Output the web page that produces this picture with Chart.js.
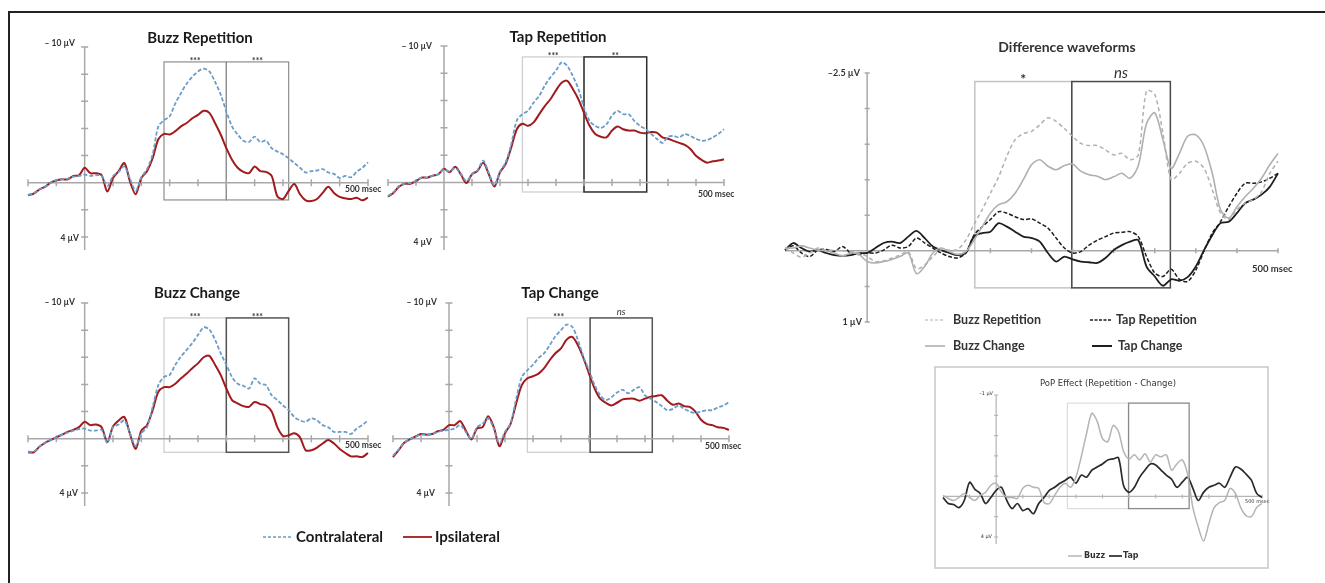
<!DOCTYPE html>
<html>
<head>
<meta charset="utf-8">
<script src="https://cdn.jsdelivr.net/npm/chart.js@4.4.0/dist/chart.umd.min.js"></script>
<style>
  html, body { margin: 0; padding: 0; background: #fff; }
  #fig { position: relative; width: 1325px; height: 583px; overflow: hidden; background: #fff; }
  #fig canvas { position: absolute; left: 0; top: 0; }
  #frame { position: absolute; left: 8px; top: 11px; right: -10px; bottom: -10px;
           border-left: 2px solid #222; border-top: 2px solid #222; }
</style>
</head>
<body>
<div id="fig"><div id="frame"></div></div>
<script>
// time axis, ms (one sample every 10 ms)
const times = [-100, -90, -80, -70, -60, -50, -40, -30, -20, -10,
  0, 10, 20, 30, 40, 50, 60, 70, 80, 90,
  100, 110, 120, 130, 140, 150, 160, 170, 180, 190,
  200, 210, 220, 230, 240, 250, 260, 270, 280, 290,
  300, 310, 320, 330, 340, 350, 360, 370, 380, 390,
  400, 410, 420, 430, 440, 450, 460, 470, 480, 490,
  500];

// ---- ERP panels, µV (negative up) ----
const buzzRepContra = [0.9, 0.78, 0.5, 0.3, 0.0, -0.2, -0.25, -0.3, -0.45, -0.5,
  -0.6, -0.5, -0.55, -0.5, 0.25, -0.5, -0.8, -1.2, -0.3, 0.6,
  -0.4, -1.0, -2.1, -4.15, -4.6, -4.9, -5.85, -6.6, -7.3, -7.8,
  -8.2, -8.4, -8.2, -7.45, -6.5, -5.25, -4.15, -3.55, -3.1, -3.0,
  -3.4, -3.0, -3.1, -2.55, -2.3, -2.1, -1.8, -1.45, -1.1, -0.75,
  -0.85, -0.9, -1.0, -0.75, -0.65, -0.35, -0.5, -0.4, -0.8, -1.1,
  -1.5];
const buzzRepIpsi = [0.93, 0.8, 0.5, 0.3, 0, -0.17, -0.25, -0.25, -0.5, -0.55,
  -1.1, -0.7, -0.7, -0.55, 0.65, -0.35, -0.85, -1.45, -0.1, 0.85,
  -0.35, -0.85, -1.8, -3.2, -3.6, -3.55, -3.8, -4.15, -4.4, -4.75,
  -5.0, -5.3, -5.15, -4.4, -3.55, -2.55, -1.7, -1.1, -0.8, -0.7,
  -1.2, -0.85, -0.8, -0.5, 1.0, 1.2, 0.6, 0.1, 0.85, 1.3,
  1.35, 1.2, 0.75, 0.3, 0.75, 1.05, 1.15, 1.2, 1.1, 1.3,
  1.1];
const tapRepContra = [1.0, 0.7, 0.25, 0.1, 0.05, -0.1, -0.35, -0.35, -0.5, -0.6,
  -0.95, -0.8, -1.05, -0.65, -0.1, -0.6, -0.9, -1.6, -0.7, 0.2,
  -0.8, -1.45, -2.8, -4.55, -5.0, -5.25, -5.85, -6.35, -7.1, -7.7,
  -8.2, -8.8, -8.55, -7.8, -6.85, -5.5, -4.5, -4.15, -4.0, -4.25,
  -4.9, -5.25, -5.0, -5.0, -4.5, -4.15, -3.9, -3.55, -3.2, -2.9,
  -3.35, -3.4, -3.3, -3.55, -3.4, -3.2, -3.05, -3.1, -3.3, -3.55,
  -3.9];
const tapRepIpsi = [1.05, 0.75, 0.3, 0.1, 0.1, -0.1, -0.35, -0.35, -0.5, -0.6,
  -1.0, -0.75, -1.15, -0.6, 0.05, -0.6, -0.85, -1.45, -0.6, 0.3,
  -0.75, -1.35, -2.55, -3.9, -4.3, -4.15, -4.4, -5.0, -5.6, -6.1,
  -6.75, -7.3, -7.45, -6.85, -6.1, -5.1, -4.15, -3.55, -3.35, -3.3,
  -3.8, -4.1, -3.9, -3.8, -3.8, -3.65, -3.6, -3.7, -3.65, -3.3,
  -3.2, -3.05, -2.9, -2.75, -2.45, -1.95, -1.65, -1.45, -1.55, -1.6,
  -1.7];
const buzzChgContra = [0.95, 0.95, 0.6, 0.3, 0.1, -0.1, -0.3, -0.45, -0.6, -0.7,
  -0.75, -0.6, -0.6, -0.65, 0.3, -0.85, -1.05, -1.35, -0.4, 0.55,
  -0.4, -0.85, -2.35, -3.95, -4.55, -4.7, -5.45, -6.05, -6.55, -7.05,
  -7.65, -8.2, -8.05, -7.3, -6.3, -5.45, -4.55, -4.05, -3.9, -3.7,
  -4.45, -4.05, -3.95, -3.2, -2.85, -2.45, -2.1, -1.6, -1.35, -1.25,
  -1.5, -1.35, -1.0, -0.85, -0.5, -0.5, -0.5, -0.35, -0.75, -1.0,
  -1.35];
const buzzChgIpsi = [1.0, 1.0, 0.6, 0.3, 0.1, -0.1, -0.3, -0.5, -0.65, -0.85,
  -1.25, -1.0, -1.05, -0.85, 0.25, -0.9, -1.35, -1.6, -0.35, 0.75,
  -0.6, -1.0, -2.1, -3.45, -3.8, -3.8, -4.05, -4.45, -4.8, -5.2,
  -5.55, -6.0, -6.1, -5.45, -4.7, -3.7, -2.85, -2.6, -2.4, -2.35,
  -2.7, -2.55, -2.45, -2.0, -0.85, -0.2, -0.25, -0.4, -0.1, 0.85,
  0.85, 0.65, 0.35, 0.1, 0.35, 0.75, 1.05, 1.3, 1.3, 1.35,
  1.05];
const tapChgContra = [1.25, 0.8, 0.3, 0.05, -0.15, -0.3, -0.3, -0.35, -0.5, -0.6,
  -0.65, -0.75, -1.0, -0.5, 0.0, -0.85, -1.1, -1.5, -0.75, 0.35,
  -0.5, -1.15, -2.95, -4.55, -5.05, -5.45, -5.95, -6.3, -6.9, -7.55,
  -8.0, -8.4, -8.25, -7.3, -6.05, -5.05, -3.95, -3.2, -2.85, -3.05,
  -3.4, -3.6, -3.35, -3.6, -3.8, -3.2, -2.95, -2.7, -2.4, -2.1,
  -2.2, -2.45, -2.2, -2.0, -1.9, -2.0, -2.1, -2.1, -2.3, -2.45,
  -2.7];
const tapChgIpsi = [1.35, 0.85, 0.3, 0.05, -0.15, -0.35, -0.3, -0.35, -0.55, -0.65,
  -1.0, -1.0, -1.3, -0.6, 0.05, -0.75, -0.85, -1.65, -0.85, 0.55,
  -0.4, -1.1, -2.6, -3.95, -4.45, -4.6, -4.8, -5.2, -5.8, -6.3,
  -6.65, -7.3, -7.5, -6.9, -5.95, -4.8, -3.7, -2.95, -2.65, -2.45,
  -2.65, -2.9, -2.95, -2.95, -2.8, -2.95, -3.1, -3.15, -3.2, -2.8,
  -2.5, -2.6, -2.4, -2.35, -2.0, -1.4, -1.1, -1.0, -0.85, -0.8,
  -0.65];

// ---- difference waveforms, µV ----
const diffBuzzRep = [-0.04, 0.03, 0.09, 0.03, -0.04, -0.01, -0.01, 0.0, 0.01, 0.03,
  0.08, 0.15, 0.14, 0.1, 0.06, 0.01, 0.25, 0.2, 0.08, -0.02,
  -0.01, -0.02, -0.15, -0.37, -0.58, -0.81, -1.04, -1.33, -1.56, -1.65,
  -1.68, -1.77, -1.87, -1.82, -1.72, -1.61, -1.51, -1.48, -1.48, -1.42,
  -1.35, -1.37, -1.28, -1.35, -2.25, -2.2, -1.65, -1.0, -1.09, -1.23,
  -1.26, -1.16, -0.86, -0.53, -0.44, -0.58, -0.67, -0.72, -0.83, -1.09,
  -1.26];
const diffBuzzChg = [-0.04, -0.04, -0.07, -0.04, -0.01, 0.0, 0.03, 0.07, 0.03, 0.05,
  0.15, 0.17, 0.15, 0.12, 0.08, 0.03, 0.32, 0.22, 0.03, -0.04,
  0.01, 0.05, 0.01, -0.15, -0.34, -0.53, -0.65, -0.69, -0.81, -1.0,
  -1.21, -1.28, -1.19, -1.14, -1.2, -1.22, -1.12, -1.07, -1.05, -1.0,
  -1.04, -1.09, -1.02, -1.2, -1.79, -1.94, -1.56, -1.16, -1.37, -1.61,
  -1.63, -1.47, -1.09, -0.58, -0.46, -0.62, -0.76, -0.88, -1.02, -1.21,
  -1.37];
const diffTapRep = [-0.01, -0.07, 0.03, 0.08, -0.01, -0.02, 0.01, -0.06, 0.03, 0.05,
  0.03, 0.03, -0.01, -0.08, -0.04, -0.06, -0.18, -0.11, -0.04, 0.03,
  0.08, 0.1, 0.03, -0.22, -0.34, -0.44, -0.55, -0.53, -0.48, -0.44,
  -0.45, -0.39, -0.32, -0.18, -0.04, 0.03, 0.01, -0.08, -0.15, -0.2,
  -0.25, -0.26, -0.27, -0.2, 0.08, 0.31, 0.36, 0.26, 0.4, 0.43,
  0.27, 0.0, -0.25, -0.41, -0.62, -0.81, -0.95, -0.95, -0.97, -1.02,
  -1.09];
const diffTapChg = [-0.01, -0.11, -0.04, 0.01, -0.01, 0.03, 0.06, 0.07, 0.06, 0.03,
  0.03, -0.04, -0.11, -0.13, -0.11, -0.2, -0.28, -0.18, -0.06, -0.01,
  0.03, 0.06, 0.03, -0.2, -0.25, -0.27, -0.39, -0.34, -0.27, -0.2,
  -0.18, -0.13, 0.03, 0.15, 0.08, 0.12, 0.15, 0.16, 0.17, 0.1,
  -0.01, -0.08, -0.13, -0.15, 0.22, 0.36, 0.49, 0.4, 0.42, 0.37,
  0.22, -0.01, -0.22, -0.39, -0.41, -0.53, -0.67, -0.72, -0.79, -0.9,
  -1.09];

// ---- PoP effect (repetition - change) ----
const popBuzz = [-0.01, 0.02, 0.04, 0.01, -0.03, 0.01, 0.04, -0.01, -0.04, -0.11,
  -0.13, -0.04, 0.01, 0.01, 0.02, -0.08, -0.11, -0.09, -0.08, 0.06,
  0.07, -0.01, -0.09, -0.13, -0.09, -0.19, -0.39, -0.62, -0.82, -0.74,
  -0.57, -0.54, -0.7, -0.64, -0.44, -0.37, -0.41, -0.36, -0.42, -0.34,
  -0.41, -0.39, -0.41, -0.26, -0.32, -0.36, -0.22, 0.11, 0.3, 0.44,
  0.27, 0.11, 0.06, 0.04, -0.08, -0.03, 0.11, 0.19, 0.2, 0.11,
  0.07];
const popTap = [0.01, 0.07, 0.08, 0.11, 0.04, -0.14, -0.07, -0.03, 0.07, 0.01,
  -0.06, -0.09, 0.04, 0.12, 0.07, 0.14, 0.12, 0.17, 0.07, 0.01,
  -0.06, -0.09, -0.13, -0.16, -0.19, -0.13, -0.21, -0.19, -0.26, -0.29,
  -0.32, -0.36, -0.37, -0.38, -0.1, -0.04, -0.09, -0.19, -0.26, -0.32,
  -0.31, -0.26, -0.21, -0.17, -0.09, -0.14, -0.19, -0.08, 0.04, -0.04,
  -0.09, -0.11, -0.13, -0.09, -0.19, -0.29, -0.27, -0.22, -0.16, -0.03,
  0.01];

// tick values
const eegXTicks = [-100, -50, 0, 50, 100, 150, 200, 250, 300, 350, 400, 450, 500];
const eegYTicks = [-10, -8, -6, -4, -2, 0, 2, 4];
const diffXTicks = [150, 200, 250, 300, 350, 400, 450, 500];
const diffYTicks = [-2.5, -2, -1.5, -1, -0.5, 0, 0.5, 1];
const popXTicks = [-50, 0, 50, 100, 150, 200, 250, 300, 350, 400, 450, 500];
const popYTicks = [-1, -0.8, -0.6, -0.4, -0.2, 0, 0.2, 0.4];

// ---- styles ----
const contra = { borderColor: '#6a9dca', borderWidth: 1.8, borderDash: [4, 2] };
const ipsi = { borderColor: '#a11a1d', borderWidth: 2 };
const lightDash = { borderColor: '#b0b0b0', borderWidth: 1.5, borderDash: [4, 3] };
const lightSolid = { borderColor: '#b0b0b0', borderWidth: 1.6 };
const darkDash = { borderColor: '#1e1e1e', borderWidth: 1.5, borderDash: [4, 2] };
const darkSolid = { borderColor: '#1e1e1e', borderWidth: 1.8 };
const popGray = { borderColor: '#b4b4b4', borderWidth: 1.5 };
const popBlack = { borderColor: '#2a2a2a', borderWidth: 1.7 };

const eegAxis = { color: '#a8a8a8', width: 1.5, xTicks: eegXTicks, yTicks: eegYTicks, tick: 3.5, yTail: 13 };
const lab = 'bold 8.5px Lato';
const ttl = 'bold 15px Lato';
const star = 'bold 8.5px Lato';

const panels = [
  { // Buzz Repetition
    area: [28, 47, 368, 237], yRange: [-10, 4], axis: eegAxis,
    series: [{ v: buzzRepContra, s: contra }, { v: buzzRepIpsi, s: ipsi }],
    boxes: [
      { from: 140, to: 250, top: -8.9, bottom: 1.27, color: '#8e8e8e', width: 1.2, mark: '***', font: star, dy: 2 },
      { from: 250, to: 360, top: -8.9, bottom: 1.27, color: '#8e8e8e', width: 1.2, mark: '***', font: star, dy: 2 },
    ],
    texts: [
      { t: 'Buzz Repetition', x: 200, y: 38, font: ttl, align: 'center', color: '#1a1a1a' },
      { t: '– 10 µV', x: 75, y: 43, font: lab, align: 'right' },
      { t: '4 µV', x: 79, y: 238, font: lab, align: 'right' },
      { t: '500 msec', x: 345, y: 189, font: lab, align: 'left' },
    ],
  },
  { // Tap Repetition
    area: [388, 46, 724, 237], yRange: [-10, 4], axis: eegAxis,
    series: [{ v: tapRepContra, s: contra }, { v: tapRepIpsi, s: ipsi }],
    boxes: [
      { from: 140, to: 250, top: -9.2, bottom: 0.7, color: '#cfcfcf', width: 1.3, mark: '***', font: star, dy: 2 },
      { from: 250, to: 362, top: -9.2, bottom: 0.7, color: '#2e2e2e', width: 1.5, mark: '**', font: star, dy: 2 },
    ],
    texts: [
      { t: 'Tap Repetition', x: 558, y: 37, font: ttl, align: 'center', color: '#1a1a1a' },
      { t: '– 10 µV', x: 432, y: 46, font: lab, align: 'right' },
      { t: '4 µV', x: 432, y: 242, font: lab, align: 'right' },
      { t: '500 msec', x: 698, y: 194, font: lab, align: 'left' },
    ],
  },
  { // Buzz Change
    area: [28, 303, 368, 493], yRange: [-10, 4], axis: eegAxis,
    series: [{ v: buzzChgContra, s: contra }, { v: buzzChgIpsi, s: ipsi }],
    boxes: [
      { from: 140, to: 250, top: -8.9, bottom: 1.0, color: '#cfcfcf', width: 1.3, mark: '***', font: star, dy: 2 },
      { from: 250, to: 360, top: -8.9, bottom: 1.0, color: '#555555', width: 1.5, mark: '***', font: star, dy: 2 },
    ],
    texts: [
      { t: 'Buzz Change', x: 197, y: 293, font: ttl, align: 'center', color: '#1a1a1a' },
      { t: '– 10 µV', x: 75, y: 302, font: lab, align: 'right' },
      { t: '4 µV', x: 78, y: 493, font: lab, align: 'right' },
      { t: '500 msec', x: 345, y: 445, font: lab, align: 'left' },
    ],
  },
  { // Tap Change
    area: [393, 303, 729, 493], yRange: [-10, 4], axis: eegAxis,
    series: [{ v: tapChgContra, s: contra }, { v: tapChgIpsi, s: ipsi }],
    boxes: [
      { from: 140, to: 252, top: -8.9, bottom: 1.0, color: '#cfcfcf', width: 1.3, mark: '***', font: star, dy: 2 },
      { from: 252, to: 363, top: -8.9, bottom: 1.0, color: '#555555', width: 1.5, mark: 'ns', font: 'italic 9.5px Lato', dy: -3 },
    ],
    texts: [
      { t: 'Tap Change', x: 560, y: 293, font: ttl, align: 'center', color: '#1a1a1a' },
      { t: '– 10 µV', x: 437, y: 302, font: lab, align: 'right' },
      { t: '4 µV', x: 435, y: 493, font: lab, align: 'right' },
      { t: '500 msec', x: 705, y: 446, font: lab, align: 'left' },
      // shared legend of the four ERP panels
      { t: 'Contralateral', x: 296, y: 537, font: 'bold 15px Lato', align: 'left', color: '#1a1a1a' },
      { t: 'Ipsilateral', x: 435, y: 537, font: 'bold 15px Lato', align: 'left', color: '#1a1a1a' },
    ],
    keys: [
      { x1: 263, x2: 293, y: 537, s: { borderColor: '#6a9dca', borderWidth: 1.5, borderDash: [3, 2] } },
      { x1: 403, x2: 432, y: 537, s: { borderColor: '#a11a1d', borderWidth: 1.8 } },
    ],
  },
  { // Difference waveforms
    area: [785, 73, 1278, 322], yRange: [-2.5, 1],
    axis: { color: '#a8a8a8', width: 1.5, xTicks: diffXTicks, yTicks: diffYTicks, tick: 2.5, yTail: 0 },
    series: [{ v: diffBuzzRep, s: lightDash }, { v: diffBuzzChg, s: lightSolid },
             { v: diffTapRep, s: darkDash }, { v: diffTapChg, s: darkSolid }],
    boxes: [
      { from: 131, to: 249, top: -2.38, bottom: 0.52, color: '#c4c4c4', width: 1.5, mark: '*', font: 'bold 14px Lato', dy: 2 },
      { from: 249, to: 369, top: -2.38, bottom: 0.52, color: '#4a4a4a', width: 1.5, mark: 'ns', font: 'italic 15px Lato', dy: -4 },
    ],
    texts: [
      { t: 'Difference waveforms', x: 1067, y: 47, font: 'bold 14px Lato', align: 'center', color: '#333' },
      { t: '–2.5 µV', x: 860, y: 73, font: 'bold 9px Lato', align: 'right' },
      { t: '1 µV', x: 862, y: 322, font: 'bold 9px Lato', align: 'right' },
      { t: '500 msec', x: 1252, y: 269, font: 'bold 9.5px Lato', align: 'left' },
      { t: 'Buzz Repetition', x: 953, y: 320, font: 'bold 12.5px Lato', align: 'left', color: '#333' },
      { t: 'Tap Repetition', x: 1116, y: 320, font: 'bold 12.5px Lato', align: 'left', color: '#333' },
      { t: 'Buzz Change', x: 953, y: 346, font: 'bold 12.5px Lato', align: 'left', color: '#333' },
      { t: 'Tap Change', x: 1118, y: 346, font: 'bold 12.5px Lato', align: 'left', color: '#333' },
    ],
    keys: [
      { x1: 925, x2: 945, y: 320, s: { borderColor: '#b0b0b0', borderWidth: 1.2, borderDash: [3, 2] } },
      { x1: 1090, x2: 1112, y: 320, s: { borderColor: '#1e1e1e', borderWidth: 1.4, borderDash: [3, 1.5] } },
      { x1: 925, x2: 945, y: 346, s: { borderColor: '#b0b0b0', borderWidth: 1.6 } },
      { x1: 1092, x2: 1112, y: 346, s: { borderColor: '#1e1e1e', borderWidth: 2 } },
    ],
  },
  { // PoP effect
    area: [943, 395, 1262, 537], yRange: [-1, 0.4],
    axis: { color: '#b4b4b4', width: 1.2, xTicks: popXTicks, yTicks: popYTicks, tick: 2, yTail: 7 },
    frames: [{ x: 935, y: 367, w: 333, h: 201, color: '#c8c8c8', width: 1.5 }],
    series: [{ v: popBuzz, s: popGray }, { v: popTap, s: popBlack }],
    boxes: [
      { from: 134, to: 249, top: -0.92, bottom: 0.12, color: '#dcdcdc', width: 1.2 },
      { from: 249, to: 363, top: -0.92, bottom: 0.12, color: '#8a8a8a', width: 1.3 },
    ],
    texts: [
      { t: 'PoP Effect (Repetition - Change)', x: 1108, y: 384, font: '8.5px "DejaVu Sans"', align: 'center', color: '#333' },
      { t: '–1 µV', x: 993, y: 394, font: '5px "DejaVu Sans"', align: 'right' },
      { t: '4 µV', x: 992, y: 537, font: '5px "DejaVu Sans"', align: 'right' },
      { t: '500 msec', x: 1245, y: 502, font: '5px "DejaVu Sans"', align: 'left' },
      { t: 'Buzz', x: 1084, y: 556, font: 'bold 8px "DejaVu Sans"', align: 'left', color: '#333' },
      { t: 'Tap', x: 1123, y: 556, font: 'bold 8px "DejaVu Sans"', align: 'left', color: '#333' },
    ],
    keys: [
      { x1: 1068, x2: 1082, y: 556, s: { borderColor: '#b4b4b4', borderWidth: 1.5 } },
      { x1: 1109, x2: 1122, y: 556, s: { borderColor: '#2a2a2a', borderWidth: 1.7 } },
    ],
  },
];

const W = 1325, H = 583;
const fig = document.getElementById('fig');

function pts(vals) {
  return times.map((t, i) => ({ x: t, y: vals[i] }));
}

function decor(p) {
  return {
    id: 'decor',
    beforeDatasetsDraw(chart) {
      const { ctx, scales: { x, y } } = chart;
      ctx.save();
      (p.frames || []).forEach((f) => {
        ctx.strokeStyle = f.color;
        ctx.lineWidth = f.width;
        ctx.strokeRect(f.x, f.y, f.w, f.h);
      });
      // boxes for the analysis windows
      p.boxes.forEach((b) => {
        const l = x.getPixelForValue(b.from), r = x.getPixelForValue(b.to);
        const t = y.getPixelForValue(b.top), bt = y.getPixelForValue(b.bottom);
        ctx.strokeStyle = b.color;
        ctx.lineWidth = b.width;
        ctx.strokeRect(l, t, r - l, bt - t);
      });
      // axes crossing at zero
      const a = p.axis;
      const x0 = x.getPixelForValue(0), y0 = y.getPixelForValue(0);
      ctx.strokeStyle = a.color;
      ctx.lineWidth = a.width;
      ctx.beginPath();
      ctx.moveTo(x.getPixelForValue(x.min), y0);
      ctx.lineTo(x.getPixelForValue(x.max), y0);
      ctx.moveTo(x0, y.getPixelForValue(y.min));
      ctx.lineTo(x0, y.getPixelForValue(y.max) + a.yTail);
      a.xTicks.forEach((t) => {
        const px = x.getPixelForValue(t);
        ctx.moveTo(px, y0 - a.tick);
        ctx.lineTo(px, y0 + a.tick);
      });
      a.yTicks.forEach((v) => {
        const py = y.getPixelForValue(v);
        ctx.moveTo(x0 - a.tick, py);
        ctx.lineTo(x0 + a.tick, py);
      });
      ctx.stroke();
      ctx.restore();
    },
    afterDraw(chart) {
      const { ctx, scales: { x, y } } = chart;
      ctx.save();
      // significance marks above the boxes
      p.boxes.forEach((b) => {
        if (!b.mark) return;
        ctx.font = b.font;
        ctx.textAlign = 'center';
        ctx.textBaseline = 'alphabetic';
        ctx.fillStyle = '#333';
        const cx = (x.getPixelForValue(b.from) + x.getPixelForValue(b.to)) / 2;
        ctx.fillText(b.mark, cx, y.getPixelForValue(b.top) + b.dy);
      });
      (p.keys || []).forEach((k) => {
        ctx.strokeStyle = k.s.borderColor;
        ctx.lineWidth = k.s.borderWidth;
        ctx.setLineDash(k.s.borderDash || []);
        ctx.beginPath();
        ctx.moveTo(k.x1, k.y);
        ctx.lineTo(k.x2, k.y);
        ctx.stroke();
      });
      ctx.setLineDash([]);
      p.texts.forEach((t) => {
        ctx.font = t.font;
        ctx.textAlign = t.align;
        ctx.textBaseline = 'middle';
        ctx.fillStyle = t.color || '#333';
        ctx.fillText(t.t, t.x, t.y);
      });
      ctx.restore();
    },
  };
}

panels.forEach((p) => {
  const canvas = document.createElement('canvas');
  canvas.width = W;
  canvas.height = H;
  canvas.style.width = W + 'px';
  canvas.style.height = H + 'px';
  fig.appendChild(canvas);

  const [l, t, r, b] = p.area;
  new Chart(canvas, {
    type: 'line',
    data: {
      datasets: p.series.map((s) => ({
        data: pts(s.v),
        borderColor: s.s.borderColor,
        borderWidth: s.s.borderWidth,
        borderDash: s.s.borderDash || [],
        pointRadius: 0,
        tension: 0.3,
        fill: false,
        clip: false,
      })),
    },
    plugins: [decor(p)],
    options: {
      responsive: false,
      animation: false,
      events: [],
      layout: { padding: { left: l, top: t, right: W - r, bottom: H - b } },
      plugins: { legend: { display: false }, tooltip: { enabled: false }, title: { display: false } },
      scales: {
        x: { type: 'linear', min: -100, max: 500, display: false },
        y: { type: 'linear', min: p.yRange[0], max: p.yRange[1], reverse: true, display: false },
      },
    },
  });
});
</script>
</body>
</html>
